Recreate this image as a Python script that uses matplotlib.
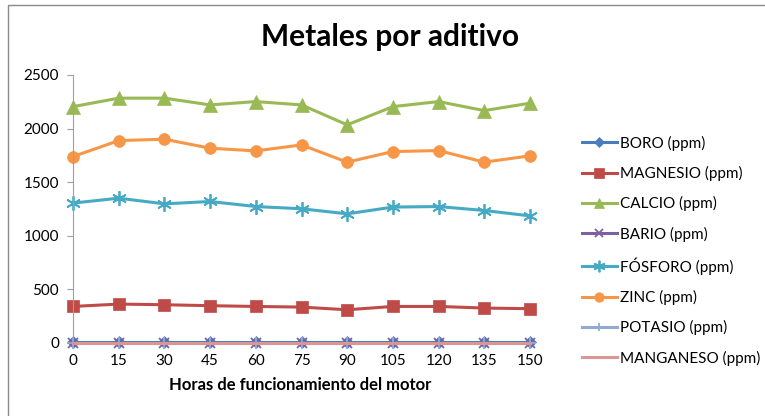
import matplotlib.pyplot as plt
from matplotlib.patches import Rectangle

plt.rcParams['font.family'] = ['Lato', 'DejaVu Sans']

horas = [0, 15, 30, 45, 60, 75, 90, 105, 120, 135, 150]

boro = [5, 5, 5, 5, 5, 5, 5, 5, 5, 5, 5]
magnesio = [341, 363, 357, 348, 341, 335, 310, 341, 341, 326, 320]
calcio = [2205, 2284, 2284, 2221, 2252, 2221, 2035, 2205, 2252, 2168, 2237]
bario = [3, 3, 3, 3, 3, 3, 3, 3, 3, 3, 3]
fosforo = [1305, 1351, 1298, 1320, 1273, 1252, 1205, 1268, 1273, 1236, 1186]
zinc = [1739, 1888, 1901, 1817, 1792, 1848, 1687, 1786, 1795, 1687, 1746]
potasio = [4, 4, 4, 4, 4, 4, 4, 4, 4, 4, 4]
manganeso = [1, 1, 1, 1, 1, 1, 1, 1, 1, 1, 1]

series = [
    ('BORO (ppm)', boro, '#4a7ebb', 'D', 6),
    ('MAGNESIO (ppm)', magnesio, '#be4b48', 's', 8.5),
    ('CALCIO (ppm)', calcio, '#98b954', '^', 9.5),
    ('BARIO (ppm)', bario, '#7d60a0', 'x', 7),
    ('FÓSFORO (ppm)', fosforo, '#46aac5', (6, 2, 0), 10.5),
    ('ZINC (ppm)', zinc, '#f79646', 'o', 8.5),
    ('POTASIO (ppm)', potasio, '#92a9d8', '+', 8),
    ('MANGANESO (ppm)', manganeso, '#d99694', None, 0),
]

fig = plt.figure(figsize=(7.65, 4.16), dpi=100)
ax = fig.add_axes([73 / 765, 1 - 343 / 416, (530 - 73) / 765, (343 - 75) / 416])

for name, vals, color, marker, ms in series:
    ax.plot(horas, vals, color=color, lw=2.2, marker=marker, markersize=ms,
            markeredgewidth=1.3 if marker in ('x', '+', (6, 2, 0)) else 0.5,
            markeredgecolor=color, label=name, clip_on=False)

ax.set_xlim(0, 150)
ax.set_ylim(0, 2500)
ax.set_xticks(horas)
ax.set_yticks([0, 500, 1000, 1500, 2000, 2500])
for side in ('top', 'right'):
    ax.spines[side].set_visible(False)
ax.spines['left'].set_color('#a0a0a0')
ax.spines['bottom'].set_visible(False)
ax.tick_params(axis='y', length=4, color='#a0a0a0', labelsize=11, pad=6)
ax.tick_params(axis='x', length=0, labelsize=11, pad=8)

fig.text(390 / 765, 1 - 37 / 416, 'Metales por aditivo', ha='center', va='center',
         fontsize=21.5, fontweight='bold')
fig.text(300 / 765, 1 - 385 / 416, 'Horas de funcionamiento del motor', ha='center',
         va='center', fontsize=12, fontweight='bold')

handles, labels = ax.get_legend_handles_labels()
fig.legend(handles, labels, loc='upper left', bbox_to_anchor=(568 / 765, 1 - 122 / 416),
           frameon=False, fontsize=11, labelspacing=1.0, handlelength=2.3,
           handletextpad=0.2, markerscale=0.8)

fig.patches.append(Rectangle((8 / 765, -0.1), 1.2, 1 - 5 / 416 + 0.1, transform=fig.transFigure,
                             fill=False, edgecolor='#8a8a8a', lw=1))

fig.savefig('out.png', dpi=100)
